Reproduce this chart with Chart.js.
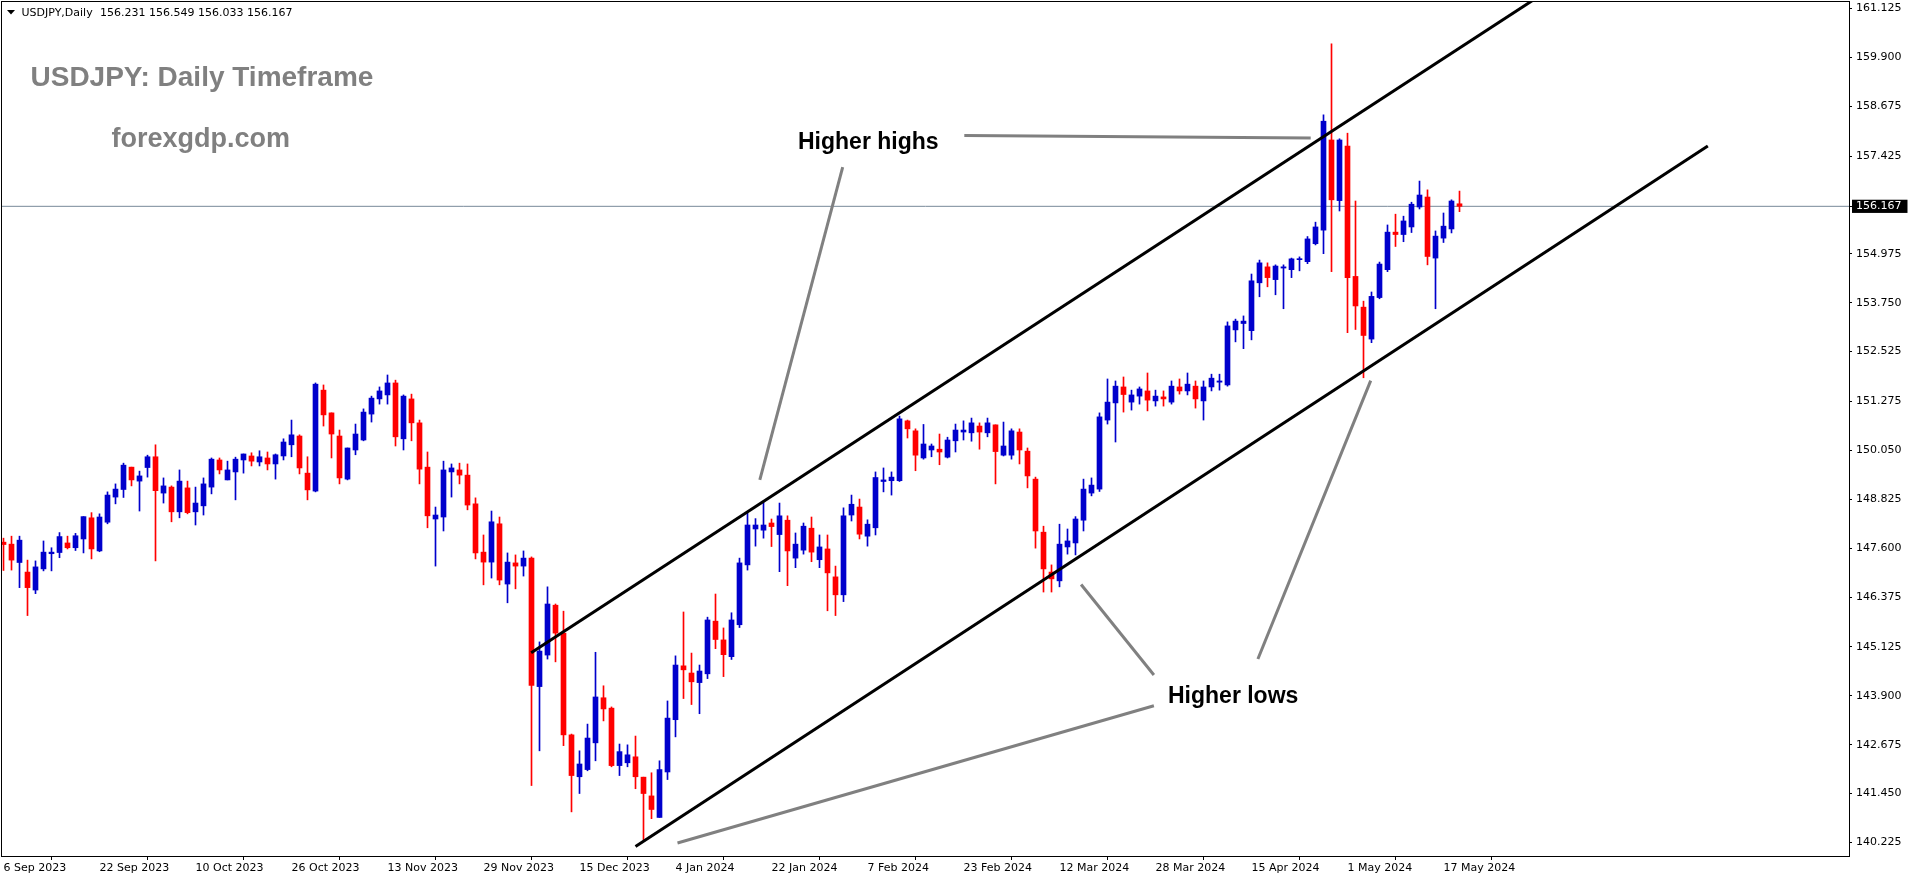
<!DOCTYPE html>
<html>
<head>
<meta charset="utf-8">
<title>USDJPY Daily</title>
<script src="https://cdn.jsdelivr.net/npm/chart.js@4.4.1/dist/chart.umd.min.js"></script>
<style>
  html, body { margin: 0; padding: 0; background: #fff; }
  #chart { display: block; }
</style>
</head>
<body>
<canvas id="chart" width="1914" height="884"></canvas>
<script>
// daily bars from 6 Sep 2023, one entry per trading day
const opens = [
  147.75,147.70,147.24,147.00,146.55,147.08,147.46,147.49,147.73,147.61,
  147.83,148.36,147.53,148.25,148.88,149.07,149.63,149.28,149.62,149.89,
  148.98,149.13,148.51,149.11,148.51,148.66,149.13,149.81,149.31,149.51,
  149.81,149.91,149.76,149.86,149.71,149.91,150.19,150.41,149.48,149.03,
  151.56,150.99,150.41,149.33,150.06,150.31,150.96,151.34,151.44,151.74,
  150.34,151.34,150.74,149.63,148.33,148.38,149.51,149.56,149.43,148.71,
  147.50,147.25,148.21,146.70,147.23,147.15,147.35,144.13,144.92,146.17,
  145.47,142.92,141.87,142.05,142.72,143.85,143.59,142.15,142.22,142.37,
  141.86,141.39,140.85,141.99,143.30,144.65,144.47,144.23,144.45,145.77,
  145.30,144.88,145.68,147.18,148.08,148.05,148.23,147.94,148.30,147.35,
  147.55,148.10,147.31,147.58,146.88,146.43,148.43,148.63,147.90,148.11,
  149.27,149.29,149.29,150.79,150.54,149.86,150.06,150.08,149.88,150.29,
  150.51,150.49,150.66,150.49,150.69,149.93,149.93,150.51,150.03,149.33,
  148.00,147.00,146.78,147.63,147.73,148.30,148.98,149.08,150.81,151.24,
  151.64,151.26,151.41,151.54,151.29,151.39,151.26,151.64,151.54,151.66,
  151.29,151.64,151.76,151.69,153.07,153.23,153.05,154.25,154.65,154.33,
  154.62,154.58,154.83,154.78,155.23,155.57,157.83,156.31,157.68,154.41,
  153.64,152.84,153.88,154.58,155.52,155.46,155.65,156.15,156.40,154.87,
  155.37,155.60,156.231
];
const highs = [
  147.85,147.90,147.90,147.30,147.28,147.78,147.61,147.99,147.90,147.97,
  148.39,148.49,148.46,149.01,149.21,149.73,149.63,149.53,149.93,150.19,
  149.36,149.16,149.56,149.28,149.13,149.36,149.86,149.86,149.78,149.88,
  149.96,149.99,150.04,150.01,149.96,150.34,150.81,150.44,149.89,151.74,
  151.69,150.99,150.56,150.11,150.71,151.09,151.41,151.64,151.94,151.81,
  151.44,151.46,150.81,150.01,148.63,149.78,149.71,149.73,149.71,148.86,
  147.93,148.53,148.38,147.48,147.43,147.53,147.38,145.25,146.63,146.20,
  146.02,142.94,142.52,143.19,144.99,144.15,143.62,142.69,142.67,142.89,
  141.86,141.97,142.27,143.77,144.90,146.00,144.97,144.67,145.87,146.45,
  145.60,145.98,147.35,148.49,148.34,148.76,148.33,148.73,148.41,147.98,
  148.23,148.38,147.93,147.93,147.15,148.61,148.93,148.83,148.31,149.51,
  149.61,149.51,150.91,150.81,150.59,150.70,150.21,150.46,150.38,150.71,
  150.79,150.86,150.74,150.86,150.69,150.76,150.59,150.59,150.11,149.38,
  148.15,147.18,148.20,148.08,148.39,149.33,149.36,150.99,151.84,151.79,
  151.89,151.56,151.64,151.99,151.56,151.54,151.79,151.84,151.99,151.79,
  151.79,151.96,151.96,153.27,153.34,153.42,154.47,154.82,154.75,154.70,
  154.70,154.87,154.90,155.41,155.77,158.46,160.24,157.86,158.00,156.30,
  153.79,154.02,154.77,155.70,155.97,155.92,156.27,156.80,156.58,155.55,
  156.00,156.33,156.549
];
const lows = [
  147.04,147.05,146.61,145.91,146.46,147.03,147.03,147.36,147.58,147.54,
  147.48,147.33,147.51,148.21,148.71,148.87,149.16,148.53,149.38,147.28,
  148.73,148.26,148.36,148.46,148.18,148.43,148.96,149.46,149.31,148.81,
  149.48,149.66,149.66,149.56,149.33,149.81,149.89,149.46,148.81,149.01,
  150.66,149.86,149.21,149.31,149.94,150.29,150.76,151.21,151.21,150.16,
  150.06,150.29,149.21,148.11,147.15,148.03,148.88,149.21,148.56,147.33,
  146.68,146.85,146.68,146.23,146.58,146.90,141.65,142.52,144.82,144.75,
  142.65,140.99,141.45,142.02,142.27,143.27,142.12,141.90,142.12,141.57,
  140.29,140.82,140.85,141.80,142.87,143.83,143.68,143.45,144.33,145.08,
  144.38,144.81,145.61,147.05,147.65,147.85,147.64,147.01,146.66,147.11,
  147.45,147.26,147.11,146.03,145.91,146.26,148.28,147.83,147.65,147.93,
  149.01,148.93,149.27,150.36,149.54,149.83,149.89,149.69,149.86,150.01,
  150.31,150.28,150.08,150.39,149.21,149.91,149.83,149.71,149.11,147.60,
  146.50,146.50,146.63,147.45,147.43,148.03,148.91,149.02,150.71,150.26,
  151.01,151.06,151.21,151.04,151.16,151.16,151.21,151.46,151.44,151.11,
  150.81,151.54,151.56,151.66,152.77,152.60,152.82,153.90,154.15,153.95,
  153.60,154.38,154.55,154.73,155.20,154.98,154.53,156.05,153.00,153.08,
  151.87,152.75,153.85,154.53,155.16,155.28,155.51,156.10,154.70,153.60,
  155.26,155.50,156.033
];
const closes = [
  147.69,147.30,147.80,146.61,147.13,147.50,147.50,147.89,147.61,147.91,
  148.39,147.58,148.38,148.93,149.08,149.68,149.31,149.41,149.89,149.04,
  149.16,148.51,149.28,148.49,148.73,149.21,149.83,149.56,149.56,149.83,
  149.96,149.78,149.89,149.71,149.94,150.26,150.44,149.61,149.06,151.71,
  150.94,150.46,149.36,150.11,150.46,151.01,151.36,151.54,151.74,150.39,
  151.41,150.74,149.58,148.41,148.43,149.56,149.61,149.43,148.68,147.48,
  147.25,148.26,146.80,147.25,147.15,147.35,144.16,145.02,146.20,145.47,
  142.92,141.90,142.19,142.84,143.87,143.57,142.15,142.50,142.42,141.87,
  141.45,141.05,142.05,143.34,144.67,144.55,144.25,144.52,145.80,145.31,
  144.93,145.80,147.23,148.18,148.18,148.18,148.14,148.41,147.53,147.70,
  148.15,147.50,147.63,146.98,146.43,148.41,148.70,147.95,148.20,149.37,
  149.31,149.38,150.84,150.59,149.93,150.21,150.16,150.01,150.31,150.56,
  150.56,150.74,150.51,150.74,150.02,150.16,150.54,150.06,149.41,148.03,
  147.08,146.83,147.70,147.78,148.33,149.08,149.18,150.89,151.26,151.66,
  151.45,151.44,151.59,151.31,151.41,151.34,151.66,151.54,151.71,151.34,
  151.64,151.86,151.79,153.17,153.29,153.29,154.30,154.75,154.38,154.67,
  154.65,154.85,154.85,155.35,155.65,158.30,156.33,157.83,154.38,153.67,
  152.93,153.91,154.72,155.52,155.46,155.80,156.22,156.45,154.91,155.42,
  155.67,156.30,156.167
];

// one date label every 12 bars
const dateLabels = ['6 Sep 2023','22 Sep 2023','10 Oct 2023','26 Oct 2023','13 Nov 2023','29 Nov 2023',
  '15 Dec 2023','4 Jan 2024','22 Jan 2024','7 Feb 2024','23 Feb 2024','12 Mar 2024',
  '28 Mar 2024','15 Apr 2024','1 May 2024','17 May 2024'];
const labelEvery = 12;

const priceTicks = [161.125,159.900,158.675,157.425,154.975,153.750,152.525,151.275,150.050,
  148.825,147.600,146.375,145.125,143.900,142.675,141.450,140.225];
const lastPrice = 156.167;

// trend channel and pointer lines, as [bar index, price]
const upperChannel = [[65.96,144.98],[192,161.44]];
const lowerChannel = [[79.0,140.12],[213.04,157.68]];
const pointerLines = [
  [[120.1,157.94],[163.4,157.88]],
  [[104.9,157.15],[94.54,149.31]],
  [[143.8,144.42],[134.7,146.69]],
  [[156.8,144.82],[170.9,151.80]],
  [[143.8,143.65],[84.25,140.21]]
];

const BULL = '#0000CC';
const BEAR = '#FF0000';

const candleColors = opens.map((o, i) => closes[i] >= o ? BULL : BEAR);
const bodyData = opens.map((o, i) => ({ x: i, y: [o, closes[i]] }));
const wickData = opens.map((o, i) => ({ x: i, y: [lows[i], highs[i]] }));

function toPoints(seg) {
  return seg.map(p => ({ x: p[0], y: p[1] }));
}

function lineSet(seg, color) {
  return {
    type: 'line', data: toPoints(seg), borderColor: color, borderWidth: 3,
    pointRadius: 0, fill: false, tension: 0, borderCapStyle: 'butt', order: 0
  };
}

const datasets = [
  { type: 'bar', data: bodyData, backgroundColor: candleColors, barThickness: 5,
    grouped: false, minBarLength: 1, borderWidth: 0, order: 1 },
  { type: 'bar', data: wickData, backgroundColor: candleColors, barThickness: 1,
    grouped: false, minBarLength: 1, borderWidth: 0, order: 2 },
  { type: 'line', data: [{ x: -1, y: lastPrice }, { x: 240, y: lastPrice }], borderColor: '#778899',
    borderWidth: 1, pointRadius: 0, fill: false, order: 3 },
  lineSet(upperChannel, '#000'),
  lineSet(lowerChannel, '#000')
];
pointerLines.forEach(seg => datasets.push(lineSet(seg, '#808080')));

const overlay = {
  id: 'overlay',
  afterDraw(chart) {
    const c = chart.ctx;
    const a = chart.chartArea;
    c.save();
    c.strokeStyle = '#000';
    c.lineWidth = 1;
    c.strokeRect(a.left - 0.5, a.top - 0.5, a.right - a.left + 1, a.bottom - a.top + 1);

    // header
    c.fillStyle = '#000';
    c.beginPath();
    c.moveTo(7, 10); c.lineTo(15, 10); c.lineTo(11, 14.5); c.closePath();
    c.fill();
    c.font = '11px "DejaVu Sans"';
    c.textBaseline = 'alphabetic';
    c.fillText('USDJPY,Daily', 21.5, 16);
    c.fillText([opens[182], highs[182], lows[182], closes[182]].map(v => v.toFixed(3)).join(' '), 100, 16);

    c.fillStyle = '#808080';
    c.font = 'bold 28px "Liberation Sans"';
    c.fillText('USDJPY: Daily Timeframe', 30.5, 86);
    c.font = 'bold 27px "Liberation Sans"';
    c.fillText('forexgdp.com', 111.5, 146.5);

    c.fillStyle = '#000';
    c.font = 'bold 23px "Liberation Sans"';
    c.fillText('Higher highs', 798, 149);
    c.fillText('Higher lows', 1168, 703);
    c.restore();
  }
};

Chart.defaults.font.family = '"DejaVu Sans"';

new Chart(document.getElementById('chart'), {
  type: 'bar',
  data: { datasets: datasets },
  options: {
    responsive: false,
    animation: false,
    events: [],
    layout: { padding: { left: 2, top: 2, right: 0, bottom: 0 } },
    plugins: { legend: { display: false }, tooltip: { enabled: false } },
    scales: {
      x: {
        type: 'linear', min: -0.1875, max: 230.6875, offset: false, bounds: 'data',
        afterBuildTicks: s => { s.ticks = dateLabels.map((_, k) => ({ value: k * labelEvery })); },
        afterFit: s => { s.height = 28; s.paddingLeft = 0; s.paddingRight = 0; },
        grid: { drawOnChartArea: false, drawTicks: true, tickLength: 4, color: '#000' },
        border: { display: false },
        ticks: {
          autoSkip: false, maxRotation: 0, align: 'start', padding: 2, color: '#000',
          font: { family: '"DejaVu Sans"', size: 11 },
          callback: v => dateLabels[Math.round(v / labelEvery)]
        }
      },
      y: {
        position: 'right', min: 139.884, max: 161.288, bounds: 'data',
        afterBuildTicks: s => { s.ticks = priceTicks.concat([lastPrice]).map(v => ({ value: v })); },
        afterFit: s => { s.width = 65; s.paddingTop = 0; s.paddingBottom = 0; },
        grid: { drawOnChartArea: false, drawTicks: true, tickLength: 3, color: '#000' },
        border: { display: false },
        ticks: {
          autoSkip: false, padding: 4,
          color: ctx => (ctx.tick && ctx.tick.value === lastPrice) ? '#fff' : '#000',
          font: { family: '"DejaVu Sans"', size: 11, lineHeight: 1.2 },
          callback: v => v.toFixed(3),
          showLabelBackdrop: ctx => !!(ctx.tick && ctx.tick.value === lastPrice),
          backdropColor: '#000',
          backdropPadding: { left: 4, right: 6, top: 0, bottom: 0 }
        }
      }
    }
  },
  plugins: [overlay]
});
</script>
</body>
</html>
